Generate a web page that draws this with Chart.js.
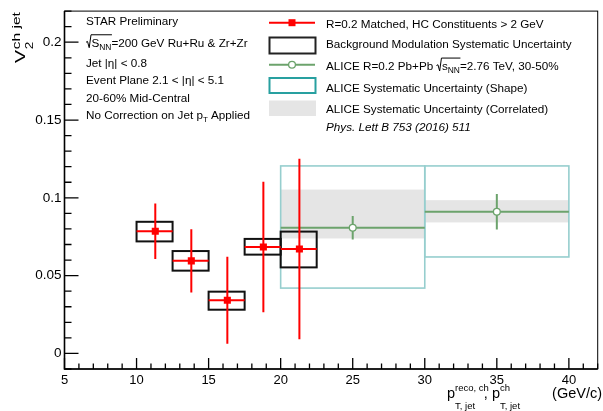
<!DOCTYPE html>
<html>
<head>
<meta charset="utf-8">
<script src="https://cdn.jsdelivr.net/npm/chart.js@4.4.1/dist/chart.umd.min.js"></script>
<style>
  html, body { margin: 0; padding: 0; background: #fff; }
  #wrap { width: 603px; height: 411px; }
</style>
</head>
<body>
<div id="wrap"><canvas id="myChart" width="603" height="411"></canvas></div>
<script>
// STAR, R=0.2 matched, HC constituents > 2 GeV
const starPt = [11.3, 13.8, 16.3, 18.8, 21.3];
const starBinLo = [10, 12.5, 15, 17.5, 20];
const starBinHi = [12.5, 15, 17.5, 20, 22.5];
const starV2 = [0.0785, 0.0595, 0.0342, 0.0684, 0.0671];
const starStat = [0.0178, 0.0203, 0.028, 0.042, 0.058];
const starSysLo = [0.0720, 0.0532, 0.0281, 0.0635, 0.0553];
const starSysHi = [0.0846, 0.0658, 0.0397, 0.0736, 0.0783];

// ALICE R=0.2 Pb+Pb 2.76 TeV, 30-50%
const alicePt = [25, 35];
const aliceBinLo = [20, 30];
const aliceBinHi = [30, 40];
const aliceV2 = [0.0808, 0.0911];
const aliceStat = [0.0076, 0.0114];
const aliceShapeLo = [0.042, 0.062];
const aliceShapeHi = [0.1205, 0.1205];
const aliceCorrLo = [0.0739, 0.0842];
const aliceCorrHi = [0.1053, 0.0985];

// axes
const xMin = 5, xMax = 42, xMajor = 5, xMinor = 1;
const yMin = -0.01, yMax = 0.22, yMajor = 0.05, yMinor = 0.01;

const FONT = '"Liberation Sans", Arial, Helvetica, sans-serif';
const RED = "rgb(255, 0, 0)";
const GREEN = "rgb(108, 163, 108)";
const TEAL = "rgb(150, 206, 206)";
const TEAL_LEG = "rgb(40, 160, 160)";
const GRAY = "rgb(229, 229, 229)";

function put(ctx, s, x, y, size, style) {
	ctx.font = (style ? style + " " : "") + size + "px " + FONT;
	ctx.fillText(s, x, y);
	return x + ctx.measureText(s).width;
}

// sqrt(s_NN) drawn by hand, returns end x
function sqrtS(ctx, x, y, s, sub, size) {
	const x0 = x + 5.5;
	const e1 = put(ctx, s, x0, y, size);
	const e2 = put(ctx, sub, e1, y + 3, size * 0.72);
	ctx.save();
	ctx.lineWidth = 1;
	ctx.strokeStyle = "#000";
	ctx.beginPath();
	ctx.moveTo(x, y - size * 0.38);
	ctx.lineTo(x + 1.5, y - size * 0.45);
	ctx.lineTo(x + 3.2, y + 1);
	ctx.lineTo(x + 5, y - size * 1.02);
	ctx.lineTo(e2 + 0.5, y - size * 1.02);
	ctx.stroke();
	ctx.restore();
	return e2;
}

const errorPlugin = {
	id: "errors",
	beforeDatasetsDraw(chart) {
		const ctx = chart.ctx;
		const xs = chart.scales.x, ys = chart.scales.y;
		const px = v => xs.getPixelForValue(v);
		const py = v => ys.getPixelForValue(v);
		ctx.save();
		// ALICE correlated band
		ctx.fillStyle = GRAY;
		alicePt.forEach((p, i) => {
			ctx.fillRect(px(aliceBinLo[i]), py(aliceCorrHi[i]), px(aliceBinHi[i]) - px(aliceBinLo[i]), py(aliceCorrLo[i]) - py(aliceCorrHi[i]));
		});
		// ALICE shape boxes
		ctx.strokeStyle = TEAL;
		ctx.lineWidth = 1.6;
		alicePt.forEach((p, i) => {
			ctx.strokeRect(px(aliceBinLo[i]), py(aliceShapeHi[i]), px(aliceBinHi[i]) - px(aliceBinLo[i]), py(aliceShapeLo[i]) - py(aliceShapeHi[i]));
		});
		// ALICE stat
		ctx.strokeStyle = GREEN;
		ctx.lineWidth = 2;
		alicePt.forEach((p, i) => {
			ctx.beginPath();
			ctx.moveTo(px(aliceBinLo[i]), py(aliceV2[i]));
			ctx.lineTo(px(aliceBinHi[i]), py(aliceV2[i]));
			ctx.moveTo(px(p), py(aliceV2[i] - aliceStat[i]));
			ctx.lineTo(px(p), py(aliceV2[i] + aliceStat[i]));
			ctx.stroke();
		});
		// STAR background modulation syst boxes
		ctx.strokeStyle = "#111";
		ctx.lineWidth = 2;
		starPt.forEach((p, i) => {
			ctx.strokeRect(px(starBinLo[i]), py(starSysHi[i]), px(starBinHi[i]) - px(starBinLo[i]), py(starSysLo[i]) - py(starSysHi[i]));
		});
		// STAR stat
		ctx.strokeStyle = RED;
		ctx.lineWidth = 2;
		starPt.forEach((p, i) => {
			ctx.beginPath();
			ctx.moveTo(px(starBinLo[i]), py(starV2[i]));
			ctx.lineTo(px(starBinHi[i]), py(starV2[i]));
			ctx.moveTo(px(p), py(starV2[i] - starStat[i]));
			ctx.lineTo(px(p), py(starV2[i] + starStat[i]));
			ctx.stroke();
		});
		ctx.restore();
	},
	afterDraw(chart) {
		const ctx = chart.ctx;
		const a = chart.chartArea;
		const xs = chart.scales.x, ys = chart.scales.y;
		ctx.save();
		// frame
		ctx.strokeStyle = "#000";
		ctx.lineWidth = 1;
		ctx.strokeRect(a.left, a.top, a.right - a.left, a.bottom - a.top);
		ctx.lineWidth = 1.6;
		ctx.beginPath();
		ctx.moveTo(a.left, a.top);
		ctx.lineTo(a.left, a.bottom);
		ctx.lineTo(a.right, a.bottom);
		ctx.stroke();
		// ticks inside the frame
		ctx.lineWidth = 1.3;
		ctx.beginPath();
		for (let i = Math.round(xMin / xMinor); i * xMinor <= xMax + 1e-9; i++) {
			const v = i * xMinor;
			const major = Math.abs(v / xMajor - Math.round(v / xMajor)) < 1e-6;
			const x = xs.getPixelForValue(v);
			ctx.moveTo(x, a.bottom);
			ctx.lineTo(x, a.bottom - (major ? 11 : 5.5));
		}
		for (let i = Math.round(yMin / yMinor); i * yMinor <= yMax + 1e-9; i++) {
			const v = i * yMinor;
			const major = Math.abs(v / yMajor - Math.round(v / yMajor)) < 1e-6;
			const y = ys.getPixelForValue(v);
			ctx.moveTo(a.left, y);
			ctx.lineTo(a.left + (major ? 14 : 7), y);
		}
		ctx.stroke();

		// info text
		ctx.fillStyle = "#000";
		ctx.textAlign = "left";
		ctx.textBaseline = "alphabetic";
		const fs = 11.7;
		put(ctx, "STAR Preliminary", 86, 25, fs);
		let e = sqrtS(ctx, 86, 46.7, "S", "NN", fs);
		put(ctx, "=200 GeV Ru+Ru & Zr+Zr", e, 46.7, fs);
		put(ctx, "Jet |\u03b7| < 0.8", 86, 67, fs);
		put(ctx, "Event Plane 2.1 < |\u03b7| < 5.1", 86, 84.3, fs);
		put(ctx, "20-60% Mid-Central", 86, 101.7, fs);
		e = put(ctx, "No Correction on Jet p", 86, 119, fs);
		e = put(ctx, "T", e, 122, 8);
		put(ctx, " Applied", e, 119, fs);

		// legend
		const lx0 = 269, lx1 = 315, lt = 326;
		ctx.lineWidth = 2;
		ctx.strokeStyle = RED;
		ctx.beginPath(); ctx.moveTo(lx0, 22.7); ctx.lineTo(lx1, 22.7); ctx.stroke();
		ctx.fillStyle = RED;
		ctx.fillRect(288.5, 19.2, 7, 7);
		ctx.strokeStyle = "#222";
		ctx.strokeRect(lx0 + 0.5, 37.5, lx1 - lx0, 16);
		ctx.strokeStyle = GREEN;
		ctx.beginPath(); ctx.moveTo(lx0, 64.7); ctx.lineTo(lx1, 64.7); ctx.stroke();
		ctx.fillStyle = "#fff";
		ctx.lineWidth = 1.3;
		ctx.beginPath(); ctx.arc(292, 64.7, 3.4, 0, Math.PI * 2); ctx.fill(); ctx.stroke();
		ctx.lineWidth = 2;
		ctx.strokeStyle = TEAL_LEG;
		ctx.strokeRect(lx0 + 0.5, 78, lx1 - lx0, 15);
		ctx.fillStyle = GRAY;
		ctx.fillRect(lx0, 100.5, lx1 - lx0 + 1, 15.5);

		ctx.fillStyle = "#000";
		put(ctx, "R=0.2 Matched, HC Constituents > 2 GeV", lt, 27.7, fs);
		put(ctx, "Background Modulation Systematic Uncertainty", lt, 48.3, fs);
		e = put(ctx, "ALICE R=0.2 Pb+Pb ", lt, 70, fs);
		e = sqrtS(ctx, e, 70, "s", "NN", fs);
		put(ctx, "=2.76 TeV, 30-50%", e, 70, fs);
		put(ctx, "ALICE Systematic Uncertainty (Shape)", lt, 92.3, fs);
		put(ctx, "ALICE Systematic Uncertainty (Correlated)", lt, 113.3, fs);
		put(ctx, "Phys. Lett B 753 (2016) 511", lt, 131, fs, "italic");

		// x title
		const bx = 398;
		e = put(ctx, "p", 447, bx, 14.5);
		let e1 = put(ctx, "reco, ch", e, bx - 7, 9.5);
		let e2 = put(ctx, "T, jet", e, bx + 10.5, 9.5);
		e = put(ctx, ", p", Math.max(e1, e2) - 5, bx, 14.5);
		put(ctx, "ch", e, bx - 7, 9.5);
		put(ctx, "T, jet", e, bx + 10.5, 9.5);
		ctx.textAlign = "right";
		put(ctx, "(GeV/c)", 602, bx, 14.5);

		// y title
		ctx.textAlign = "left";
		ctx.translate(25, 63);
		ctx.rotate(-Math.PI / 2);
		ctx.scale(1.35, 1);
		e = put(ctx, "V", 0, 0, 14.5);
		put(ctx, "2", e + 0.5, 8, 10);
		put(ctx, "ch jet", e + 0.5, -5.5, 11.5);
		ctx.restore();
	},
};

new Chart(document.getElementById("myChart"), {
	type: "scatter",
	data: {
		datasets: [
			{
				label: "STAR",
				data: starPt.map((x, i) => ({ x: x, y: starV2[i] })),
				pointStyle: "rect",
				radius: 5,
				backgroundColor: RED,
				borderColor: RED,
				borderWidth: 0,
			},
			{
				label: "ALICE",
				data: alicePt.map((x, i) => ({ x: x, y: aliceV2[i] })),
				pointStyle: "circle",
				radius: 3.4,
				backgroundColor: "#fff",
				borderColor: GREEN,
				borderWidth: 1.3,
			},
		],
	},
	options: {
		responsive: false,
		animation: false,
		devicePixelRatio: 1,
		layout: { padding: { left: 0, right: 2.5, top: 7.5, bottom: 0 } },
		plugins: { legend: { display: false }, tooltip: { enabled: false } },
		scales: {
			x: {
				type: "linear",
				min: xMin,
				max: xMax,
				grid: { display: false, drawTicks: false },
				border: { display: false },
				ticks: {
					stepSize: xMajor,
					includeBounds: false,
					autoSkip: false,
					maxRotation: 0,
					padding: 4,
					color: "#000",
					font: { family: FONT, size: 13 },
				},
				afterFit: s => { s.height = 42; },
			},
			y: {
				type: "linear",
				min: yMin,
				max: yMax,
				grid: { display: false, drawTicks: false },
				border: { display: false },
				ticks: {
					stepSize: yMajor,
					includeBounds: false,
					autoSkip: false,
					padding: 3,
					color: "#000",
					font: { family: FONT, size: 13.5 },
					callback: v => String(+v.toFixed(2)),
				},
				afterFit: s => { s.width = 64.5; },
			},
		},
	},
	plugins: [errorPlugin],
});
</script>
</body>
</html>
